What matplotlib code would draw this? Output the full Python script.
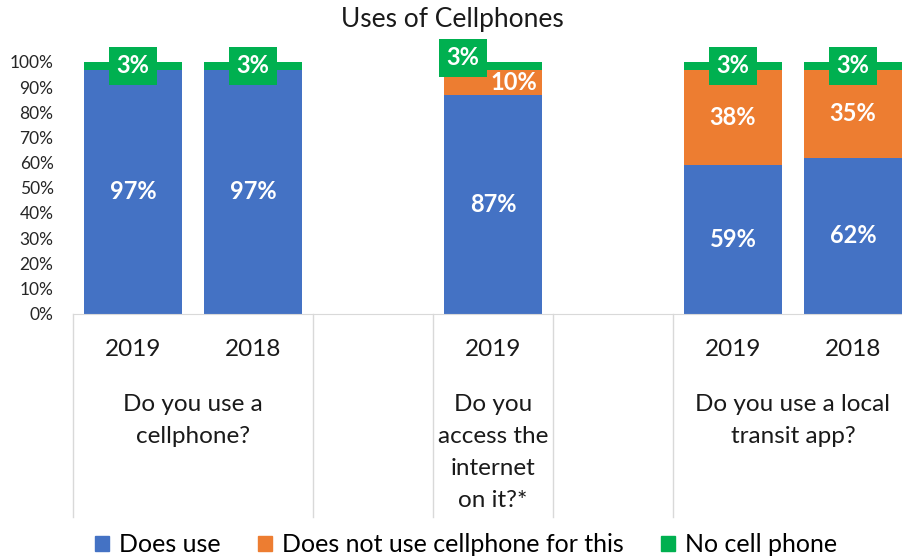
import numpy as np
import matplotlib.pyplot as plt
import matplotlib.transforms as mtransforms
from matplotlib.patches import Patch

plt.rcParams['font.family'] = ['Lato', 'DejaVu Sans']

# data (percent), one slot per bar position, blank slots are gaps between groups
years = ['2019', '2018', '', '2019', '', '2019', '2018']
groups = ['Do you use a\ncellphone?', 'Do you\naccess the\ninternet\non it?*',
          'Do you use a local\ntransit app?']
group_pos = [0.5, 3, 5.5]
does_use = [97, 97, np.nan, 87, np.nan, 59, 62]
not_use = [0, 0, np.nan, 10, np.nan, 38, 35]
no_phone = [3, 3, np.nan, 3, np.nan, 3, 3]
series_names = ['Does use', 'Does not use cellphone for this', 'No cell phone']
colors = ['#4472C4', '#ED7D31', '#00B050']

# manual label nudges (pixels) like in the original sheet
nudge = {(1, 3): (21, 0), (2, 3): (-30, 8)}

W, H = 903, 559
fig = plt.figure(figsize=(W/100, H/100), dpi=100)
ax = fig.add_axes([73/W, (H-313.5)/H, 840/W, 251.5/H])

x = np.arange(len(years))
bottom = np.zeros(len(years))
for k, vals in enumerate([does_use, not_use, no_phone]):
    vals = np.array(vals, dtype=float)
    ax.bar(x, vals, 0.815, bottom=bottom, color=colors[k], zorder=2)
    for i in range(len(x)):
        v = vals[i]
        if np.isnan(v) or v == 0:
            continue
        dx, dy = nudge.get((k, i), (0, 0))
        box = None
        if k == 2:
            box = dict(boxstyle='square,pad=0.32', fc=colors[2], ec='none')
        ax.annotate(f'{v:.0f}%', (x[i], bottom[i] + v/2), xytext=(dx, dy),
                    textcoords='offset pixels', ha='center', va='center',
                    color='white', fontsize=17, fontweight='bold', bbox=box, zorder=3)
    bottom = bottom + np.nan_to_num(vals)

ax.set_xlim(-0.5, 6.5)
ax.set_ylim(0, 100)
ax.set_yticks(range(0, 101, 10))
ax.set_yticklabels([f'{t}%' for t in range(0, 101, 10)])
ax.tick_params(axis='y', length=0, pad=14, labelsize=12.5, labelcolor='#262626')
ax.set_xticks([])
for s in ['left', 'top', 'right']:
    ax.spines[s].set_visible(False)
ax.spines['bottom'].set_color('#D9D9D9')

trans = mtransforms.blended_transform_factory(ax.transData, ax.transAxes)
for xb in [-0.5, 1.5, 2.5, 3.5, 4.5]:
    ax.plot([xb, xb], [0, -0.809], transform=trans, clip_on=False,
            color='#D9D9D9', lw=1)
for i, y in enumerate(years):
    if y:
        ax.text(x[i], -0.145, y, transform=trans, ha='center', va='center',
                fontsize=17.5, color='#1a1a1a')
for g, p in zip(groups, group_pos):
    ax.text(p, -0.32, g, transform=trans, ha='center', va='top',
            fontsize=17.5, color='#1a1a1a', linespacing=1.64)

fig.text(452/W, 1 - 19/H, 'Uses of Cellphones', ha='center', va='center',
         fontsize=19, color='#1a1a1a')

handles = [Patch(color=c) for c in colors]
fig.legend(handles, series_names, loc='center', bbox_to_anchor=(466/W, 14/H),
           ncol=3, frameon=False, fontsize=18, handlelength=0.55,
           handleheight=0.55, handletextpad=0.4, columnspacing=1.5)

fig.savefig('out.png', dpi=100)
